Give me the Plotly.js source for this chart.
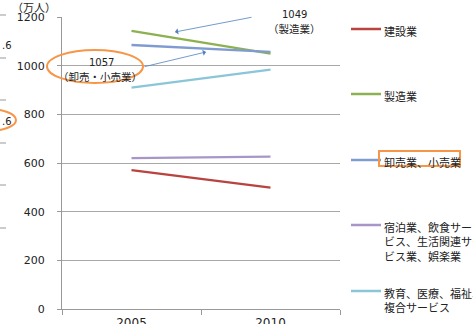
<!DOCTYPE html>
<html>
<head>
<meta charset="utf-8">
<script src="https://cdn.plot.ly/plotly-3.0.1.min.js"></script>
<style>html,body{margin:0;padding:0;background:#fff;}#chart{width:473px;height:324px;}</style>
</head>
<body>
<div id="chart"></div>
<script>
const years = ["2005", "2010"];
const seriesNames = ["建設業", "製造業", "卸売業、小売業", "宿泊業、飲食サービス、生活関連サービス業、娯楽業", "教育、医療、福祉、複合サービス"];
const construction = [571, 499];
const manufacturing = [1143, 1049];
const wholesaleRetail = [1085, 1057];
const hospitality = [620, 626];
const education = [910, 984];
const yTicks = [0, 200, 400, 600, 800, 1000, 1200];
const legendLabels = ["建設業", "製造業", "卸売業、小売業", "宿泊業、飲食サー<br>ビス、生活関連サー<br>ビス業、娯楽業", "教育、医療、福祉、<br>複合サービス"];
const colors = ["#B8433F", "#8DB050", "#7F9BD0", "#A996C8", "#8AC6D8"];

const JP = '"Noto Sans CJK JP", "Noto Sans", sans-serif';
const NUM = '"DejaVu Sans", sans-serif';

const allSeries = [construction, manufacturing, wholesaleRetail, hospitality, education];
const traces = allSeries.map((vals, i) => ({
  type: 'scatter', mode: 'lines', x: years, y: vals, name: seriesNames[i],
  line: {color: colors[i], width: 2.3}, showlegend: false, hoverinfo: 'skip'
}));

const W = 473, H = 324, L = 62, R = 133, T = 17, B = 15;
const pw = W - L - R, ph = H - T - B;
const px = x => (x - L) / pw;
const py = y => 1 - (y - T) / ph;

const shapes = [];
const annotations = [];
function txt(x, y, text, font, xa, ya) {
  annotations.push({xref: 'paper', yref: 'paper', x: px(x), y: py(y), text: text, showarrow: false,
    xanchor: xa || 'center', yanchor: ya || 'middle', align: 'left', font: font});
}

// custom legend
const legY = [29, 94, 160, 225, 291];
legendLabels.forEach((lab, i) => {
  shapes.push({type: 'line', xref: 'paper', yref: 'paper', x0: px(351), x1: px(381), y0: py(legY[i]), y1: py(legY[i]),
    line: {color: colors[i], width: 2.5}});
  txt(382, legY[i] - 8, lab, {family: JP, size: 11, color: '#222'}, 'left', 'top');
});
shapes.push({type: 'rect', xref: 'paper', yref: 'paper', x0: px(379), x1: px(460), y0: py(151), y1: py(166),
  line: {color: '#F79646', width: 2}});

// ellipse annotation for 1057
shapes.push({type: 'circle', xref: 'paper', yref: 'paper', x0: px(47), x1: px(143), y0: py(50), y1: py(83),
  line: {color: '#F79646', width: 2}});
txt(101, 62, '1057', {family: NUM, size: 10, color: '#222'});
txt(100, 76, '（卸売・小売業）', {family: JP, size: 10.5, color: '#222'});
txt(294, 14, '1049', {family: NUM, size: 10, color: '#222'});
txt(294, 29, '（製造業）', {family: JP, size: 10.5, color: '#222'});
// arrows
annotations.push({xref: 'paper', yref: 'paper', x: px(175), y: py(32), ax: 253 - 175, ay: 17 - 32,
  text: '', showarrow: true, arrowhead: 1, arrowsize: 1.3, arrowwidth: 0.8, arrowcolor: '#4F81BD'});
annotations.push({xref: 'paper', yref: 'paper', x: px(206), y: py(52), ax: 143 - 206, ay: 67 - 52,
  text: '', showarrow: true, arrowhead: 1, arrowsize: 1.3, arrowwidth: 0.8, arrowcolor: '#4F81BD'});

// y axis unit
txt(10, -3, '（万人）', {family: JP, size: 11, color: '#222'}, 'left', 'top');

// fragments of neighbouring chart at left edge
[15, 58, 100, 143, 185, 228].forEach(y => {
  shapes.push({type: 'line', xref: 'paper', yref: 'paper', x0: px(0), x1: px(6), y0: py(y), y1: py(y),
    line: {color: '#999', width: 1}});
});
txt(0, 46, '.6', {family: NUM, size: 10, color: '#222'}, 'left', 'middle');
txt(0, 121, '.6', {family: NUM, size: 10, color: '#222'}, 'left', 'middle');
shapes.push({type: 'circle', xref: 'paper', yref: 'paper', x0: px(-40), x1: px(16), y0: py(109), y1: py(131),
  line: {color: '#F79646', width: 2}});

const layout = {
  width: W, height: H,
  margin: {l: L, r: R, t: T, b: B, pad: 0},
  paper_bgcolor: '#fff', plot_bgcolor: '#fff',
  showlegend: false,
  xaxis: {type: 'category', range: [-0.5, 1.5], tickson: 'boundaries', ticks: 'outside', ticklen: 5, tickcolor: '#999',
    showgrid: false, showline: true, linecolor: '#999', linewidth: 1, zeroline: false,
    tickfont: {family: NUM, size: 12, color: '#222'}, ticklabelstandoff: 3},
  yaxis: {range: [0, 1200], tickvals: yTicks, ticktext: yTicks.map(String), ticks: 'outside', ticklen: 4, tickcolor: '#999',
    showgrid: true, gridcolor: '#A8A8A8', gridwidth: 1, showline: true, linecolor: '#999', zeroline: false,
    tickfont: {family: NUM, size: 11, color: '#222'}, ticklabelstandoff: 10},
  shapes: shapes, annotations: annotations
};

Plotly.newPlot('chart', traces, layout, {staticPlot: true, displayModeBar: false});
</script>
</body>
</html>
